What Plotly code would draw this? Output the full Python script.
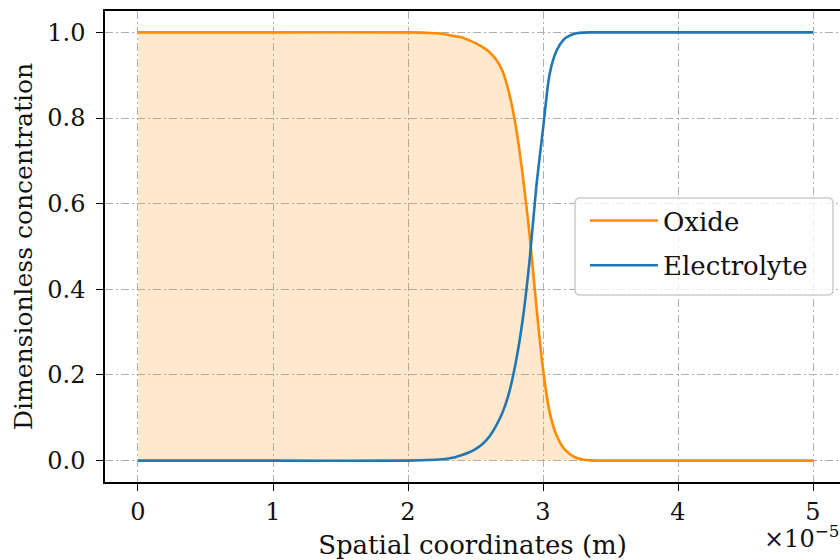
import plotly.graph_objects as go

# Data (x in units of 1e-5 m)
oxide_x = [0.0, 1.0, 2.0, 2.2, 2.25, 2.3, 2.35, 2.4, 2.45, 2.5, 2.55, 2.6, 2.65, 2.7, 2.75,
           2.8, 2.85, 2.9, 2.95, 3.0, 3.05, 3.1, 3.15, 3.2, 3.25, 3.3, 3.35, 3.4, 4.0, 5.0]
oxide_y = [1.0, 1.0, 1.0, 0.998, 0.997, 0.994, 0.991, 0.988, 0.982, 0.975, 0.966, 0.955, 0.938,
           0.91, 0.857, 0.778, 0.666, 0.53, 0.364, 0.214, 0.112, 0.059, 0.03, 0.015, 0.006,
           0.002, 0.0005, 0.0, 0.0, 0.0]

electrolyte_x = [0.0, 1.0, 2.0, 2.2, 2.25, 2.3, 2.35, 2.4, 2.45, 2.5, 2.55, 2.6, 2.65, 2.7,
                 2.75, 2.8, 2.85, 2.9, 2.95, 3.0, 3.05, 3.1, 3.15, 3.2, 3.25, 3.3, 3.35,
                 4.0, 5.0]
electrolyte_y = [0.0, 0.0, 0.0, 0.002, 0.003, 0.005, 0.008, 0.013, 0.019, 0.027, 0.038, 0.055,
                 0.08, 0.112, 0.16, 0.232, 0.33, 0.466, 0.638, 0.774, 0.904, 0.957, 0.982,
                 0.993, 0.998, 0.9995, 1.0, 1.0, 1.0]

x_ticks = [0, 1, 2, 3, 4, 5]
y_ticks = [0.0, 0.2, 0.4, 0.6, 0.8, 1.0]
y_tick_labels = ["0.0", "0.2", "0.4", "0.6", "0.8", "1.0"]

FONT = "DejaVu Serif"
ORANGE = "#FF8C00"
BLUE = "#1f77b4"
LW = 2.6

fig = go.Figure()
# shaded oxide region (no legend entry)
fig.add_trace(go.Scatter(x=oxide_x, y=oxide_y, mode="lines", fill="tozeroy",
                         fillcolor="rgba(255,140,0,0.2)",
                         line=dict(color="rgba(0,0,0,0)", width=0, shape="spline", smoothing=0.8),
                         showlegend=False, hoverinfo="skip"))
fig.add_trace(go.Scatter(x=oxide_x, y=oxide_y, mode="lines",
                         line=dict(color=ORANGE, width=LW, shape="spline", smoothing=0.8),
                         name="Oxide", legendgroup="a"))
fig.add_trace(go.Scatter(x=electrolyte_x, y=electrolyte_y, mode="lines",
                         line=dict(color=BLUE, width=LW, shape="spline", smoothing=0.8),
                         name="Electrolyte", legendgroup="b"))

grid = dict(showgrid=True, gridcolor="#b0b0b0", gridwidth=1, griddash="8px,3px,2px,3px",
            zeroline=False, showline=True, linecolor="black", linewidth=1.5,
            ticks="outside", ticklen=7, tickwidth=1.3, tickcolor="black", automargin=False,
            tickfont=dict(family=FONT, size=24, color="#111"))

# legend frame (rounded, semi-transparent) in paper coordinates
PW, PH = 735.0, 471.0
lx0, lx1, ly0, ly1 = 0.6395, 0.9905, 0.397, 0.603
rx, ry = 5 / PW, 5 / PH
legend_path = (f"M {lx0+rx},{ly0} L {lx1-rx},{ly0} Q {lx1},{ly0} {lx1},{ly0+ry} "
               f"L {lx1},{ly1-ry} Q {lx1},{ly1} {lx1-rx},{ly1} L {lx0+rx},{ly1} "
               f"Q {lx0},{ly1} {lx0},{ly1-ry} L {lx0},{ly0+ry} Q {lx0},{ly0} {lx0+rx},{ly0} Z")

fig.update_layout(
    width=840, height=560,
    margin=dict(l=105, r=0, t=11, b=78),
    paper_bgcolor="white", plot_bgcolor="white",
    font=dict(family=FONT, size=24, color="#111"),
    xaxis=dict(range=[-0.2444, 5.2], tickvals=x_ticks, mirror=True,
               ticklabelstandoff=0,
               title=dict(text="Spatial coordinates (m)", standoff=21,
                          font=dict(family=FONT, size=26)), **grid),
    yaxis=dict(range=[-0.05, 1.05], tickvals=y_ticks, ticktext=y_tick_labels,
               ticklabelstandoff=6,
               title=dict(text="Dimensionless concentration", standoff=8,
                          font=dict(family=FONT, size=25)), **grid),
    legend=dict(x=0.653, y=0.605, xanchor="left", yanchor="top",
                bgcolor="rgba(0,0,0,0)", borderwidth=0,
                font=dict(family=FONT, size=26, color="#111"), tracegroupgap=8,
                itemwidth=68),
    showlegend=True,
    shapes=[dict(type="path", path=legend_path, xref="paper", yref="paper",
                 fillcolor="rgba(255,255,255,0.8)", line=dict(color="#cccccc", width=1.5),
                 layer="above")],
    annotations=[dict(text="×10<sup>−5</sup>", xref="paper", yref="paper",
                      x=0.894, y=-0.117, xanchor="left", yanchor="middle",
                      showarrow=False, font=dict(family=FONT, size=24, color="#111"))],
)

fig.write_html("out.html", config={"displayModeBar": False},
               post_script="document.body.style.margin='0';")
